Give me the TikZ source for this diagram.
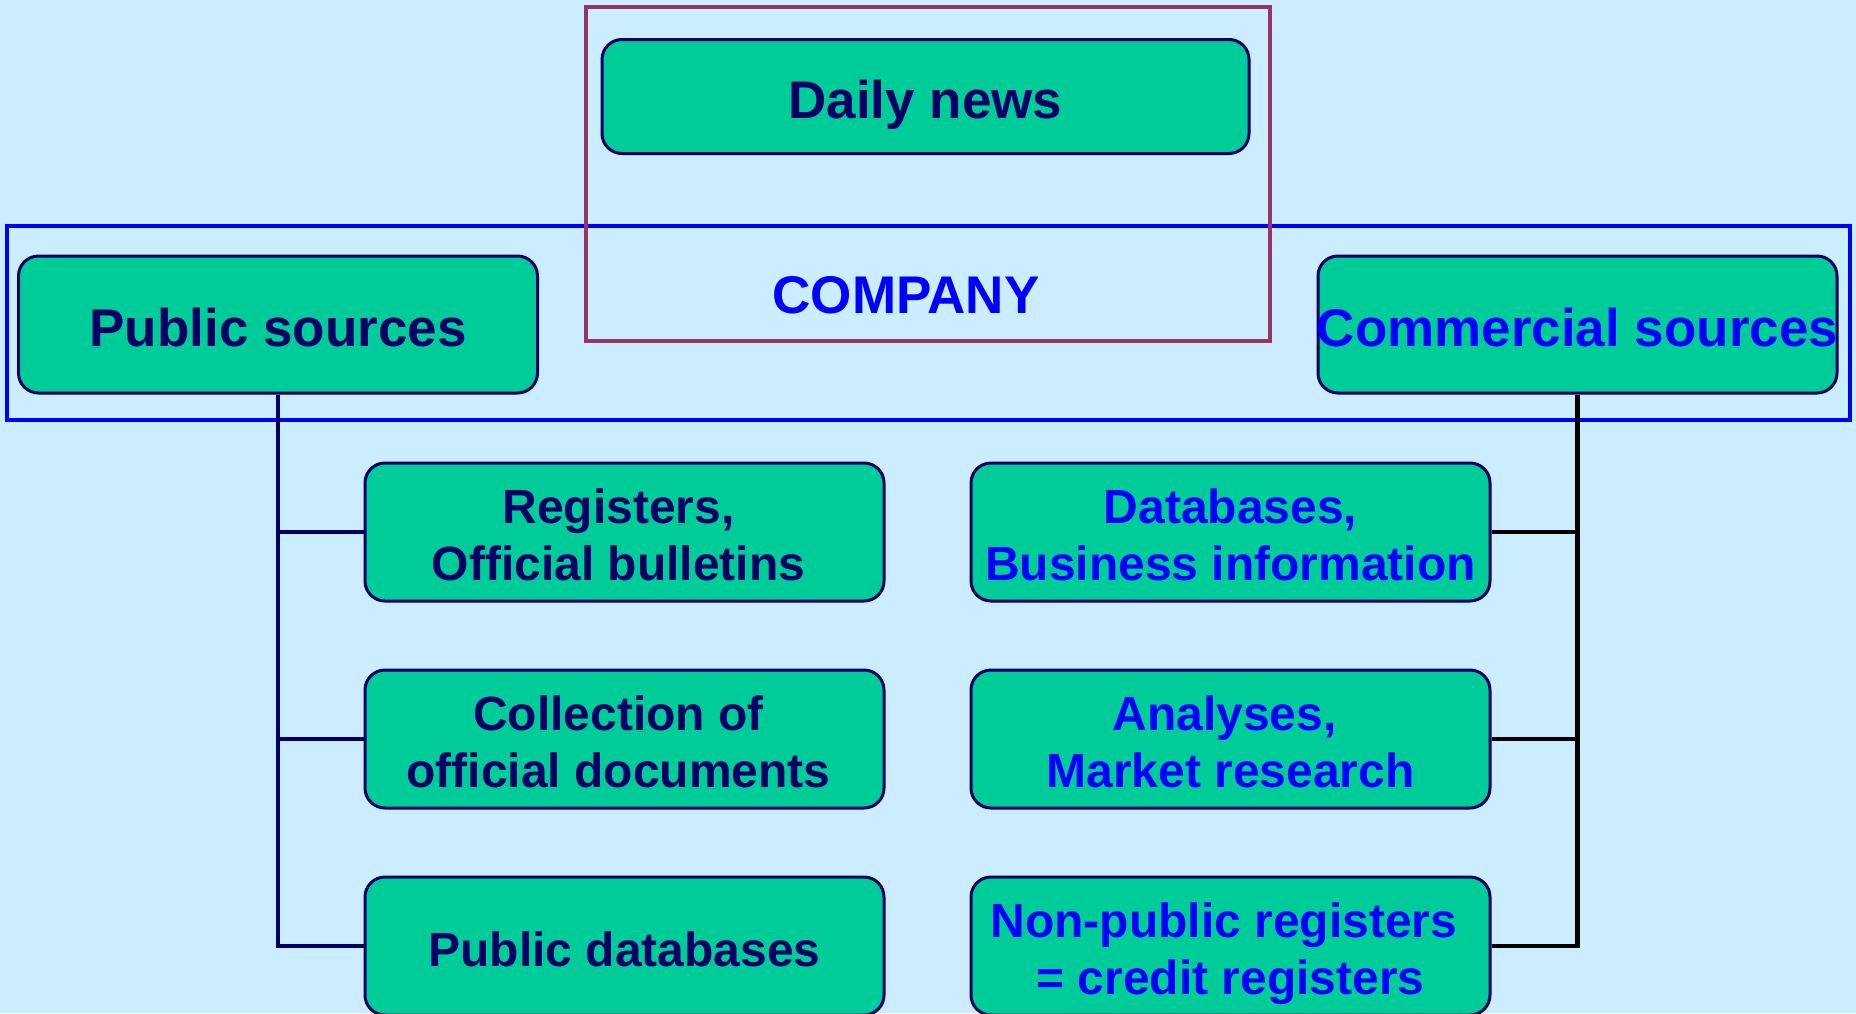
\documentclass[tikz,border=0pt]{standalone}
\usepackage{fontspec}
\setmainfont{Liberation Sans}
\definecolor{bg}{HTML}{CCECFF}
\definecolor{boxfill}{HTML}{00CC99}
\definecolor{navy}{HTML}{000066}
\definecolor{maroon}{HTML}{993366}
\definecolor{pureblue}{HTML}{0000FF}
\newcommand{\twolines}[2]{\begin{tabular}[t]{@{}c@{}}#1\\#2\end{tabular}}
\tikzset{
  srcbox/.style={draw=navy, fill=boxfill, line width=3pt, rounded corners=20pt,
    inner sep=0pt},
  bigtext/.style={font=\bfseries\fontsize{53}{57}\selectfont},
  smalltext/.style={font=\bfseries\fontsize{48}{57}\selectfont},
  leftbox/.style={srcbox, text=navy},
  rightbox/.style={srcbox, text=pureblue},
  headbox/.style={minimum width=519pt, minimum height=137pt},
  colbox/.style={minimum width=519pt, minimum height=138pt, smalltext},
  oneline/.style={text height=40.6pt, text depth=0pt},
  twoline/.style={text height=0pt, text depth=18pt},
  lconn/.style={draw=navy, line width=3.5pt},
  rconn/.style={draw=black, line width=4.5pt}
}
\begin{document}
\begin{tikzpicture}[x=1pt,y=-1pt]
\useasboundingbox (0,0) rectangle (1856,1013);
\fill[bg] (0,0) rectangle (1856,1013);
\begin{scope}
\clip (0,0) rectangle (1856,1013);
% company frame
\draw[pureblue, line width=4pt] (7,226) rectangle (1850,420);
% daily news frame
\draw[maroon, line width=4pt] (586,7) rectangle (1270,341);
\node[bigtext, text=pureblue, inner sep=0pt, anchor=base] (company) at (906,313.5) {COMPANY};
\node[leftbox, bigtext, minimum width=647pt, minimum height=114pt, text height=44pt, text depth=0pt] (daily) at (925.5,96.5) {Daily news};
\node[leftbox, bigtext, headbox, text height=44pt, text depth=0pt] (pub) at (278,324.5) {Public sources};
\node[rightbox, bigtext, headbox, text height=44pt, text depth=0pt] (com) at (1577.5,324.5) {\makebox[0pt]{Commercial sources}};
% left column
\node[leftbox, colbox, twoline] (reg) at (624.5,532) {\twolines{Registers,\kern12pt}{Official bulletins\kern12pt}};
\node[leftbox, colbox, twoline] (col) at (624.5,739) {\twolines{Collection of\kern12pt}{official documents\kern12pt}};
\node[leftbox, colbox, oneline] (pdb) at (624.5,946) {Public databases};
% right column
\node[rightbox, colbox, twoline] (dbs) at (1230.5,532) {\twolines{Databases,}{Business information}};
\node[rightbox, colbox, twoline] (ana) at (1230.5,739) {\twolines{Analyses,\kern12pt}{Market research}};
\node[rightbox, colbox, twoline] (npr) at (1230.5,946) {\twolines{Non-public registers\kern.278em}{= credit registers}};
% connectors
\draw[lconn] (pub.south) |- (pdb.west);
\draw[lconn] (pub.south |- reg.west) -- (reg.west);
\draw[lconn] (pub.south |- col.west) -- (col.west);
\draw[rconn] (com.south) |- (npr.east);
\draw[rconn] (com.south |- dbs.east) -- (dbs.east);
\draw[rconn] (com.south |- ana.east) -- (ana.east);
\end{scope}
\end{tikzpicture}
\end{document}
